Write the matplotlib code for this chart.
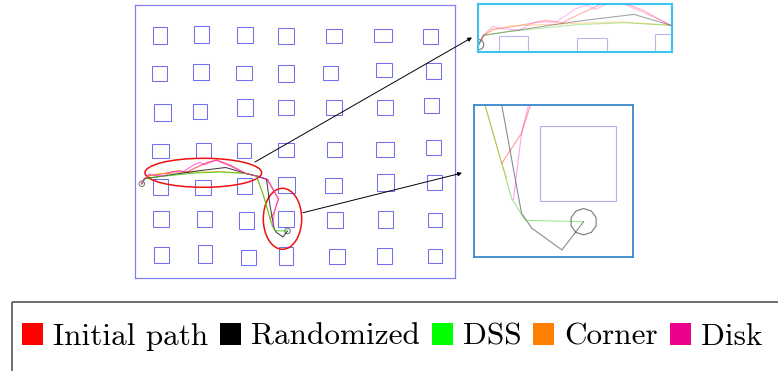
import numpy as np
import matplotlib.pyplot as plt
from matplotlib.patches import Rectangle, Ellipse, RegularPolygon, Patch

W, H = 778, 371

# obstacle boxes (x0, y0, x1, y1) per grid row, map pixels with y pointing down
obstacles = [
    [(152.7, 26.7, 166.7, 44.0), (194.3, 26.0, 209.0, 43.3), (237.3, 27.3, 253.3, 42.7), (277.7, 28.3, 294.0, 44.3),
     (325.7, 29.3, 342.3, 43.3), (374.3, 29.0, 391.7, 42.3), (423.3, 29.3, 438.3, 44.3)],
    [(151.7, 66.0, 167.3, 81.0), (193.3, 64.0, 209.0, 80.0), (235.7, 66.0, 251.7, 80.0), (278.3, 65.0, 294.0, 81.7),
     (323.3, 66.0, 338.3, 80.0), (375.7, 62.7, 391.7, 77.3), (426.0, 63.3, 440.7, 79.0)],
    [(154.0, 104.0, 170.7, 120.7), (192.7, 104.0, 206.7, 119.0), (237.3, 99.3, 253.3, 115.7), (277.7, 100.0, 294.0, 115.0),
     (325.7, 100.0, 342.3, 115.0), (376.7, 100.0, 392.7, 115.0), (424.3, 98.3, 439.3, 113.3)],
    [(151.7, 144.3, 169.3, 158.3), (196.0, 142.7, 211.0, 157.7), (236.7, 142.7, 250.7, 158.3), (277.7, 142.7, 294.3, 156.7),
     (326.7, 141.7, 342.3, 156.7), (376.0, 141.7, 394.3, 156.7), (426.0, 140.0, 440.7, 155.0)],
    [(152.7, 179.3, 168.3, 195.0), (195.0, 180.0, 211.0, 195.0), (237.3, 178.3, 252.3, 194.3), (277.7, 176.7, 295.0, 192.7),
     (325.0, 177.7, 341.7, 193.3), (377.3, 174.3, 394.0, 191.0), (426.7, 175.0, 441.7, 190.0)],
    [(153.3, 210.7, 169.3, 226.7), (196.7, 210.7, 211.7, 226.7), (239.0, 211.7, 254.0, 229.3), (278.3, 210.7, 294.3, 226.7),
     (327.3, 211.7, 343.3, 228.3), (377.7, 210.7, 393.3, 228.3), (427.7, 212.7, 441.7, 226.7)],
    [(154.0, 247.3, 169.3, 262.7), (198.3, 245.0, 212.3, 263.3), (241.0, 250.0, 255.7, 265.0), (279.3, 247.3, 293.3, 265.0),
     (329.0, 249.3, 345.0, 264.3), (376.7, 248.3, 392.3, 264.3), (427.7, 249.3, 441.7, 263.3)],
]

start_pt = (141.8, 183.8)
goal_pt = (287.5, 231.0)

initial_x = [141.8, 144.5, 149.3, 158.0, 170.7, 178.3, 186.9, 196.0, 207.0, 216.7, 230.0, 245.6, 258.0, 267.0,
             278.5, 274.3, 270.1]
initial_y = [183.8, 178.8, 175.5, 174.5, 172.2, 170.7, 172.0, 167.5, 162.5, 160.0, 165.0, 173.4, 176.5, 179.5,
             199.0, 212.2, 218.6]

random_x = [141.8, 144.3, 194.4, 225.7, 245.6, 259.0, 266.5, 270.1, 274.3, 276.5, 282.9, 287.5]
random_y = [183.8, 178.8, 171.3, 167.5, 173.4, 176.5, 179.3, 206.2, 229.2, 232.4, 237.0, 231.0]

dss_x = [141.8, 144.8, 158.3, 194.4, 220.3, 245.6, 256.5, 263.3, 270.1, 272.2, 275.1, 287.5]
dss_y = [183.8, 178.8, 176.7, 173.1, 172.0, 173.4, 176.0, 195.0, 218.6, 226.1, 230.7, 231.0]

corner_x = [141.8, 144.5, 149.3, 158.3, 167.3, 194.4, 220.3, 245.6, 256.5, 263.3, 270.1, 271.2]
corner_y = [183.8, 178.8, 176.1, 173.8, 173.4, 172.3, 171.6, 173.4, 176.0, 195.0, 218.6, 221.8]

disk_x = [141.8, 144.3, 149.3, 154.8, 163.6, 168.3, 172.8, 183.6, 194.4, 200.0, 205.0, 212.0, 216.5, 230.0,
          245.6, 258.0, 268.0, 278.5, 275.8, 274.3, 272.6]
disk_y = [183.8, 178.8, 174.0, 175.3, 176.1, 173.4, 171.6, 171.6, 164.4, 162.5, 164.8, 161.5, 160.5, 166.0,
          173.4, 176.5, 179.5, 199.0, 206.2, 212.2, 226.3]

labels = ["Initial path", "Randomized", "DSS", "Corner", "Disk"]
legend_colors = ["#ff0000", "#000000", "#00ff00", "#ff8000", "#ec008c"]
line_colors = ["#ff2020", "#000000", "#30c800", "#ff9900", "#ff30d8"]
paths = [(initial_x, initial_y), (random_x, random_y), (dss_x, dss_y), (corner_x, corner_y), (disk_x, disk_y)]
draw_order = [0, 3, 1, 2, 4]


def px_axes(fig, x0, y0, x1, y1):
    return fig.add_axes([x0 / W, 1 - y1 / H, (x1 - x0) / W, (y1 - y0) / H])


def draw_map(ax, alpha, lw, box_color):
    for row in obstacles:
        for (x0, y0, x1, y1) in row:
            ax.add_patch(Rectangle((x0, y0), x1 - x0, y1 - y0, fill=False, ec=box_color, lw=lw))
    for i in draw_order:
        xs, ys = paths[i]
        ax.plot(xs, ys, color=line_colors[i], lw=lw, alpha=alpha)
    for pt in (start_pt, goal_pt):
        ax.add_patch(RegularPolygon(pt, 10, radius=2.8, fill=False, ec="#777777", lw=lw))
    ax.set_xticks([])
    ax.set_yticks([])


fig = plt.figure(figsize=(W / 100, H / 100), dpi=100)

# main map
ax = px_axes(fig, 135, 5, 455, 278)
draw_map(ax, 0.75, 0.75, "#6f6ff0")
ax.set_xlim(135, 455)
ax.set_ylim(278, 5)
for s in ax.spines.values():
    s.set_color("#8080f0")
    s.set_linewidth(0.9)
ax.add_patch(Ellipse((203.3, 172.8), 116.7, 29, fill=False, ec="#ee1111", lw=1.1))
ax.add_patch(Ellipse((282.5, 218.8), 38.4, 61, fill=False, ec="#ee1111", lw=1.1))

# upper zoom
ax1 = px_axes(fig, 478, 4, 672, 52)
draw_map(ax1, 0.35, 0.8, "#b8b8f4")
ax1.set_xlim(141.4, 246.3)
ax1.set_ylim(187.8, 161.9)
for s in ax1.spines.values():
    s.set_color("#3cc4f0")
    s.set_linewidth(1.5)

# lower zoom
ax2 = px_axes(fig, 474, 105, 633, 257)
draw_map(ax2, 0.45, 0.8, "#b0b0f4")
ax2.set_xlim(264.2, 298.0)
ax2.set_ylim(238.5, 206.2)
for s in ax2.spines.values():
    s.set_color("#3a88d0")
    s.set_linewidth(1.3)

# overlay in figure pixels for arrows and legend frame
ov = fig.add_axes([0, 0, 1, 1], zorder=10)
ov.patch.set_alpha(0)
ov.set_xlim(0, W)
ov.set_ylim(H, 0)
ov.axis("off")
arrow = dict(arrowstyle="-|>", color="k", lw=0.7, mutation_scale=6, shrinkA=0, shrinkB=0)
ov.annotate("", xy=(472, 37.5), xytext=(255, 162), arrowprops=arrow)
ov.annotate("", xy=(462, 173), xytext=(303, 212.7), arrowprops=arrow)
ov.add_patch(Rectangle((12, 302), 900, 120, fill=False, ec="#555555", lw=1.2))

handles = [Patch(facecolor=c, edgecolor="none") for c in legend_colors]
fig.legend(handles, labels, loc="center left", bbox_to_anchor=(22 / W, 1 - 337 / H), ncol=5, frameon=False,
           prop={"family": "cmr10", "size": 22.5}, handlelength=0.67, handleheight=0.70,
           handletextpad=0.32, columnspacing=0.38, borderpad=0, borderaxespad=0)

fig.savefig("out.png", dpi=100)
